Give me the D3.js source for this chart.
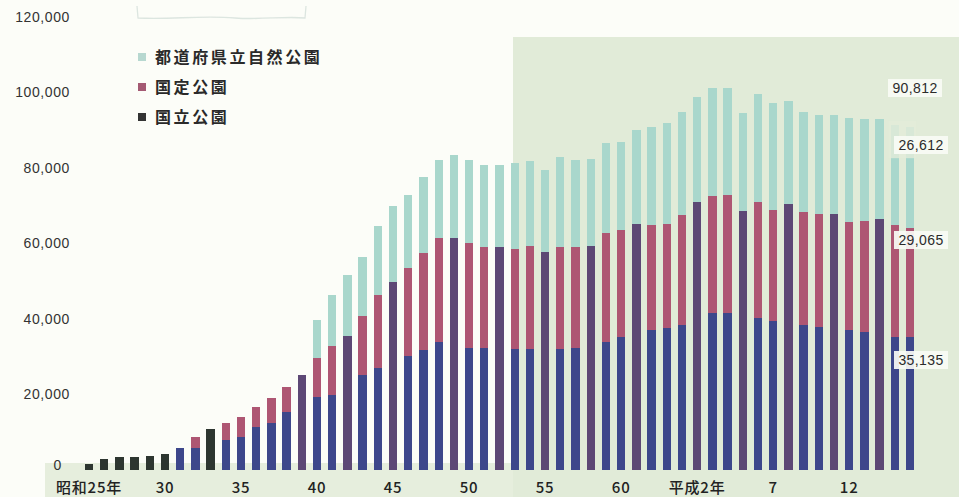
<!DOCTYPE html>
<html lang="ja">
<head>
<meta charset="utf-8">
<script src="https://cdn.jsdelivr.net/npm/d3@7"></script>
<style>
  html, body { margin: 0; padding: 0; background: #fcfdf8; }
  svg { display: block; }
  text { font-family: "Liberation Sans", Arial, sans-serif; }
  .jp { font-family: "Noto Sans CJK JP", "Noto Sans", sans-serif; }
</style>
</head>
<body>
<svg id="chart" width="959" height="497"></svg>
<script>
// 自然公園利用者数の推移（単位：万人）
const years = [
  1950, 1951, 1952, 1953, 1954, 1955, 1956, 1957, 1958, 1959,
  1960, 1961, 1962, 1963, 1964, 1965, 1966, 1967, 1968, 1969,
  1970, 1971, 1972, 1973, 1974, 1975, 1976, 1977, 1978, 1979,
  1980, 1981, 1982, 1983, 1984, 1985, 1986, 1987, 1988, 1989,
  1990, 1991, 1992, 1993, 1994, 1995, 1996, 1997, 1998, 1999,
  2000, 2001, 2002, 2003, 2004
];

// 国立公園
const national = [
  1500, 2900, 3400, 3400, 3800, 4300, 5700, 5700, 10800, 7900,
  8800, 11500, 12500, 15400, 17000, 19400, 19900, 22500, 25200, 26900,
  28500, 30200, 31800, 34000, 33500, 32200, 32200, 32100, 32000, 32000,
  31600, 32000, 32200, 32300, 33800, 35300, 36200, 37100, 37500, 38400,
  40000, 41500, 41500, 40000, 40200, 39600, 39800, 38400, 38000, 37600,
  37100, 36600, 36200, 35300, 35135
];

// 国定公園
const quasi = [
  0, 0, 0, 0, 0, 0, 0, 3000, 0, 4500,
  5200, 5100, 6700, 6600, 8200, 10400, 12900, 13000, 15600, 19500,
  21400, 23200, 25800, 27500, 28000, 28000, 26800, 27100, 26500, 27300,
  26200, 27200, 27000, 27000, 28900, 28300, 29000, 27800, 27700, 29100,
  31100, 31200, 31300, 28700, 30900, 29400, 30700, 30000, 29800, 30200,
  28700, 29400, 30200, 29600, 29065
];

// 都道府県立自然公園
const prefectural = [
  0, 0, 0, 0, 0, 0, 0, 0, 0, 0,
  0, 0, 0, 0, 0, 9900, 13600, 16200, 15700, 18200,
  20000, 19400, 20100, 20600, 21900, 21800, 21800, 21600, 22700, 22600,
  21700, 23600, 22900, 23000, 23800, 23400, 24900, 26000, 26600, 27400,
  27800, 28400, 28500, 25800, 28500, 28100, 27300, 26500, 26200, 26200,
  27400, 26900, 26500, 26500, 26612
];

// 公園種別の内訳がない年（合計のみ）
const totalOnlyYears = [1950, 1951, 1952, 1953, 1954, 1955, 1958];
// 国立・国定を一本にまとめて描く年
const combinedYears = [1964, 1967, 1970, 1974, 1977, 1980, 1983, 1986, 1990, 1993, 1996, 1999, 2002];

const yTicks = [0, 20000, 40000, 60000, 80000, 100000, 120000];
const xTickYears = [1950, 1955, 1960, 1965, 1970, 1975, 1980, 1985, 1990, 1995, 2000];
const xTickLabels = ["昭和25年", "30", "35", "40", "45", "50", "55", "60", "平成2年", "7", "12"];

const seriesNames = ["都道府県立自然公園", "国定公園", "国立公園"];
const latestLabels = ["90,812", "26,612", "29,065", "35,135"];

const colors = {
  prefectural: "#a9d7cc",
  quasi: "#ae5673",
  national: "#3d478b",
  combined: "#5d4875",
  totalOnly: "#2d3630"
};

const svg = d3.select("#chart");
const W = 959, H = 497;

// 背景（淡い緑の地）
svg.append("rect").attr("x", 0).attr("y", 0).attr("width", W).attr("height", H).attr("fill", "#fcfdf8");
svg.append("rect").attr("x", 513).attr("y", 37).attr("width", W - 513).attr("height", H - 37).attr("fill", "#e1ebd8");
svg.append("rect").attr("x", 45).attr("y", 463).attr("width", 468).attr("height", H - 463).attr("fill", "#e6eedd");
svg.append("path")
  .attr("d", "M137,6 L138,18 C170,20 200,15 235,18 C260,20 285,16 305,18 L306,6")
  .attr("fill", "none").attr("stroke", "#cfdcd5").attr("stroke-width", 1.3).attr("opacity", 0.7);

const x = d3.scaleBand()
  .domain(years)
  .range([81.4, 917.6])
  .paddingInner(0.45)
  .paddingOuter(0.225)
  .align(0.5);

const y = d3.scaleLinear().domain([0, 120000]).range([470, 17]);

const rows = years.map((yr, i) => ({
  year: yr,
  national: national[i],
  quasi: quasi[i],
  prefectural: prefectural[i]
}));

const stack = d3.stack().keys(["national", "quasi", "prefectural"]);
const layers = stack(rows);

const bars = svg.append("g").attr("shape-rendering", "crispEdges");

layers.forEach(layer => {
  const key = layer.key;
  bars.selectAll(null)
    .data(layer.filter(d => (d[1] - d[0]) > 0 &&
      !(key !== "prefectural" && combinedYears.includes(d.data.year))))
    .join("rect")
    .attr("x", d => x(d.data.year))
    .attr("width", x.bandwidth())
    .attr("y", d => y(d[1]))
    .attr("height", d => y(d[0]) - y(d[1]))
    .attr("fill", d => totalOnlyYears.includes(d.data.year) ? colors.totalOnly : colors[key]);
});

// 国立＋国定を一本で描く年
bars.selectAll(null)
  .data(rows.filter(d => combinedYears.includes(d.year)))
  .join("rect")
  .attr("x", d => x(d.year))
  .attr("width", x.bandwidth())
  .attr("y", d => y(d.national + d.quasi))
  .attr("height", d => y(0) - y(d.national + d.quasi))
  .attr("fill", colors.combined);

// 直近2年の上部は印刷がかすれている
svg.append("rect")
  .attr("x", x(2003) - 2).attr("y", y(92500))
  .attr("width", x(2004) + x.bandwidth() - x(2003) + 4)
  .attr("height", y(82600) - y(92500))
  .attr("fill", "#e3ecda").attr("opacity", 0.8);

// Y軸
const yAxis = svg.append("g")
  .attr("transform", "translate(70,0)")
  .call(d3.axisLeft(y).tickValues(yTicks).tickFormat(d3.format(",")).tickSize(0).tickPadding(0));
yAxis.select(".domain").remove();
yAxis.selectAll("text")
  .attr("font-size", 14)
  .attr("letter-spacing", "0.6px")
  .attr("fill", "#333")
  .attr("font-family", "'Liberation Sans', Arial, sans-serif");
yAxis.selectAll(".tick").filter(d => d === 0).select("text")
  .attr("x", -8).attr("dy", "-0.05em");

// X軸
const xAxis = svg.append("g")
  .attr("transform", "translate(0,470)")
  .call(d3.axisBottom(x).tickValues(xTickYears)
    .tickFormat(d => xTickLabels[xTickYears.indexOf(d)])
    .tickSize(0).tickPadding(12));
xAxis.select(".domain").remove();
xAxis.selectAll("text")
  .attr("class", "jp")
  .attr("font-size", 15)
  .attr("font-weight", 500)
  .attr("letter-spacing", "0.8px")
  .attr("fill", "#222");

// 凡例
const legendColors = ["#b7d8d0", "#a45a73", "#333333"];
const legend = svg.append("g").attr("transform", "translate(138,57)");
seriesNames.forEach((name, i) => {
  const g = legend.append("g").attr("transform", `translate(0,${i * 30})`);
  g.append("rect").attr("x", 0).attr("y", -4).attr("width", 8).attr("height", 8).attr("fill", legendColors[i]);
  g.append("text").attr("class", "jp")
    .attr("x", 17).attr("y", 0).attr("dy", "0.36em")
    .attr("font-size", 16).attr("font-weight", 700)
    .attr("letter-spacing", "2.6px")
    .attr("fill", "#2a2a2a")
    .text(name);
});

// 最新年の数値ラベル
const labelY = [88, 145, 240, 360];
const labelG = svg.append("g");
latestLabels.forEach((t, i) => {
  const cx = i === 0 ? 915 : 921;
  labelG.append("rect")
    .attr("x", cx - 27).attr("y", labelY[i] - 9)
    .attr("width", 54).attr("height", 18)
    .attr("fill", "#f9fbf5").attr("opacity", 0.92);
  labelG.append("text")
    .attr("x", cx).attr("y", labelY[i]).attr("dy", "0.36em")
    .attr("text-anchor", "middle")
    .attr("font-size", 14)
    .attr("letter-spacing", "0.4px")
    .attr("fill", "#2b2b2b")
    .text(t);
});
</script>
</body>
</html>
